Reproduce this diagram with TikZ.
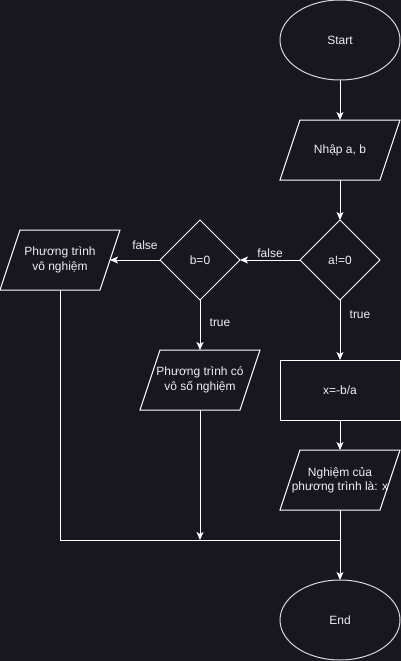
\documentclass[tikz,border=0pt]{standalone}
\usepackage{fontspec}
\setmainfont{Liberation Sans}
\usetikzlibrary{shapes.geometric,arrows.meta}
\definecolor{bgc}{RGB}{24,22,30}
\definecolor{txt}{RGB}{240,240,240}
\tikzset{
  base/.style={draw=white,line width=1pt,text=txt,font=\fontsize{12}{14.5}\selectfont,align=center,inner sep=0pt,outer sep=0pt},
  term/.style={base,ellipse,minimum width=120pt,minimum height=80pt,draw=white!85!black},
  io/.style={base,draw=none,rectangle,minimum width=120pt,minimum height=60pt},
  paraedge/.style={draw=white,line width=1pt,line join=miter},
  proc/.style={base,rectangle,minimum width=120pt,minimum height=60pt},
  dec/.style={base,diamond,minimum width=80pt,minimum height=80pt},
  arr/.style={draw=white,line width=1pt,-{Stealth[length=8pt,width=7pt,inset=2pt]}},
  ln/.style={draw=white,line width=1pt},
  lbl/.style={text=txt,font=\fontsize{12}{14.5}\selectfont,inner sep=0pt}
}
\newcommand\myparallel[1]{\draw[paraedge] (#1.south west) -- ([xshift=-20pt]#1.south east) -- (#1.north east) -- ([xshift=20pt]#1.north west) -- cycle;}
\begin{document}
\begin{tikzpicture}[x=1pt,y=-1pt]
\fill[bgc] (0,0) rectangle (401,661);
\useasboundingbox (0,0) rectangle (401,661);
\node[term] (start) at (340,40) {Start};
\node[io] (inp) at (340,150) {Nhập a, b};
\node[dec] (da) at (340,260) {a!=0};
\node[dec] (db) at (200,260) {b=0};
\node[io] (pv) at (60,260) {Phương trình\\vô nghiệm};
\node[io] (pc) at (200,380) {Phương trình có\\vô số nghiệm};
\node[proc] (px) at (340,390) {x=-b/a};
\node[io] (out) at (340,480) {Nghiệm của\\phương trình là: x};
\node[term] (end) at (340,620) {End};
\myparallel{inp}
\myparallel{pv}
\myparallel{pc}
\myparallel{out}
\coordinate (pvr) at (110,260);
\coordinate (jl) at (60,540);
\coordinate (jm) at (200,540);
\coordinate (jr) at (340,540);
\draw[arr] (start.south) -- (inp.north);
\draw[arr] (inp.south) -- (da.north);
\draw[arr] (da.west) -- (db.east);
\draw[arr] (db.west) -- (pvr);
\draw[arr] (db.south) -- (pc.north);
\draw[arr] (da.south) -- (px.north);
\draw[arr] (px.south) -- (out.north);
\draw[arr] (out.south) -- (end.north);
\draw[ln] (pv.south) -- (jl) -- (jr);
\draw[arr] (pc.south) -- (jm);
\node[lbl] (f1) at (270,253) {false};
\node[lbl] (f2) at (145,245) {false};
\node[lbl] (t1) at (220,323) {true};
\node[lbl] (t2) at (360,315) {true};
\end{tikzpicture}
\end{document}
